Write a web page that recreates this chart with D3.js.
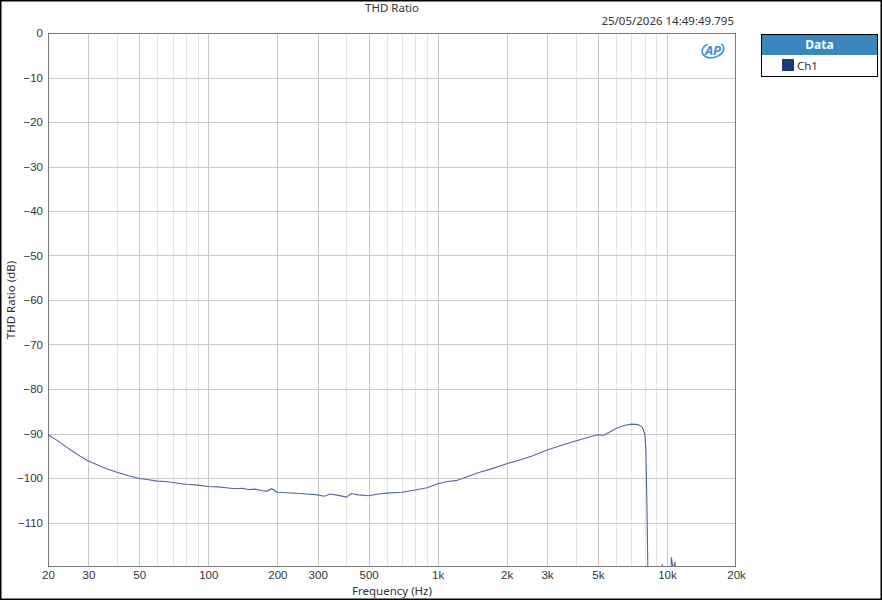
<!DOCTYPE html>
<html>
<head>
<meta charset="utf-8">
<script src="https://cdn.jsdelivr.net/npm/d3@7"></script>
<style>
  body { margin: 0; background: #fff; }
  svg { display: block; font-family: "Segoe UI", "Noto Sans", "Open Sans", sans-serif; }
</style>
</head>
<body>
<svg id="chart" width="882" height="600"></svg>
<script>
// THD ratio vs frequency, Ch1
const freqs = [20, 22, 24, 26, 28, 30, 33, 36, 40, 45, 50, 55, 60, 65, 70, 80, 90, 100,
	110, 120, 130, 140, 150, 160, 170, 180, 189, 200, 220, 250, 270, 300, 320, 340, 370,
	400, 420, 450, 500, 550, 600, 700, 800, 900, 1000, 1100, 1200, 1300, 1500, 1700, 2000,
	2300, 2600, 3000, 3500, 4000, 4500, 5000, 5300, 5600, 6000, 6500, 7000, 7500, 7800,
	8000, 8100, 8200, 8300, 9400, 9550, 9700, 10300, 10450, 10650, 10850, 11000, 20000];
const thd = [-90.3, -91.6, -93.0, -94.2, -95.3, -96.2, -97.1, -97.9, -98.7, -99.5, -100.1,
	-100.4, -100.7, -100.8, -101.0, -101.4, -101.6, -101.9, -102.0, -102.2, -102.4, -102.3,
	-102.6, -102.5, -102.8, -103.0, -102.4, -103.2, -103.3, -103.5, -103.6, -103.8, -104.1,
	-103.6, -103.9, -104.3, -103.5, -103.8, -104.0, -103.6, -103.4, -103.2, -102.7, -102.2,
	-101.3, -100.8, -100.6, -100.0, -98.8, -98.0, -96.8, -95.9, -95.0, -93.7, -92.6, -91.7,
	-90.9, -90.3, -90.4, -89.7, -88.9, -88.2, -87.9, -88.0, -88.6, -90.0, -94.0, -110.0,
	-130, -130, -119.4, -130, -130, -117.8, -120.6, -118.8, -130, -130];
const series = freqs.map((f, i) => ({f: f, v: thd[i]}));

const xTicks = [20, 30, 50, 100, 200, 300, 500, 1000, 2000, 3000, 5000, 10000, 20000];
const xTickLabels = ['20', '30', '50', '100', '200', '300', '500', '1k', '2k', '3k', '5k', '10k', '20k'];
const yTicks = [0, -10, -20, -30, -40, -50, -60, -70, -80, -90, -100, -110];

const title = 'THD Ratio';
const stamp = '25/05/2026 14:49:49.795';
const channel = 'Ch1';

const svg = d3.select('#chart');
const W = 882, H = 600;
const m = {left: 48, top: 33, right: 736, bottom: 567};

const x = d3.scaleLog().domain([20, 20000]).range([m.left, m.right]);
const y = d3.scaleLinear().domain([-120, 0]).range([m.bottom, m.top]);

// outer frame
svg.append('rect')
	.attr('x', 0.5).attr('y', 0.5)
	.attr('width', W - 1).attr('height', H - 1)
	.style('fill', '#fff').style('stroke', '#000').style('stroke-width', 2);

// grid: every 1..9 per decade
const minorF = [];
[10, 100, 1000, 10000].forEach((dec) => {
	for (let k = 1; k < 10; k++) {
		const f = dec * k;
		if (f > 20 && f < 20000) minorF.push(f);
	}
});

const grid = svg.append('g').attr('class', 'grid');

grid.selectAll('.vgrid')
	.data(minorF)
	.enter().append('line')
	.attr('class', 'vgrid')
	.attr('x1', (d) => Math.round(x(d)) + 0.5)
	.attr('x2', (d) => Math.round(x(d)) + 0.5)
	.attr('y1', m.top).attr('y2', m.bottom)
	.style('stroke', (d) => xTicks.indexOf(d) >= 0 ? '#c8c8c8' : '#e4e4e4')
	.style('stroke-width', 1);

grid.selectAll('.hgrid')
	.data(yTicks.filter((d) => d !== 0))
	.enter().append('line')
	.attr('class', 'hgrid')
	.attr('x1', m.left).attr('x2', m.right)
	.attr('y1', (d) => Math.round(y(d)) + 0.5)
	.attr('y2', (d) => Math.round(y(d)) + 0.5)
	.style('stroke', '#c8c8c8')
	.style('stroke-width', 1);

// axes
const xAxis = d3.axisBottom(x)
	.tickValues(xTicks)
	.tickFormat((d, i) => xTickLabels[i])
	.tickSize(0)
	.tickPadding(4);

const yAxis = d3.axisLeft(y)
	.tickValues(yTicks)
	.tickFormat(d3.format('d'))
	.tickSize(0)
	.tickPadding(5);

svg.append('g')
	.attr('transform', 'translate(0,' + m.bottom + ')')
	.call(xAxis)
	.call((g) => g.select('.domain').remove())
	.selectAll('text')
	.style('font-size', '11.5px')
	.style('fill', '#333')
	.style('font-family', 'inherit');

svg.append('g')
	.attr('transform', 'translate(' + m.left + ',0)')
	.call(yAxis)
	.call((g) => g.select('.domain').remove())
	.selectAll('text')
	.style('font-size', '11.5px')
	.style('fill', '#333')
	.style('font-family', 'inherit');

// plot frame
svg.append('rect')
	.attr('x', m.left + 0.5).attr('y', m.top + 0.5)
	.attr('width', m.right - m.left - 1).attr('height', m.bottom - m.top - 1)
	.style('fill', 'none').style('stroke', '#7a7a7a').style('stroke-width', 1);

// data line, clipped to the plot
svg.append('clipPath').attr('id', 'plotclip')
	.append('rect')
	.attr('x', m.left).attr('y', m.top)
	.attr('width', m.right - m.left).attr('height', m.bottom - m.top - 1);

const line = d3.line()
	.x((d) => x(d.f))
	.y((d) => y(d.v));

svg.append('path')
	.datum(series)
	.attr('clip-path', 'url(#plotclip)')
	.attr('d', line)
	.style('fill', 'none')
	.style('stroke', '#4f6899')
	.style('stroke-width', 1.1);

// texts
svg.append('text')
	.attr('x', (m.left + m.right) / 2).attr('y', 12)
	.attr('text-anchor', 'middle')
	.style('font-size', '11.5px').style('fill', '#333')
	.text(title);

svg.append('text')
	.attr('x', m.right - 2).attr('y', 25)
	.attr('text-anchor', 'end')
	.style('font-size', '11.5px').style('fill', '#333')
	.text(stamp);

svg.append('text')
	.attr('x', (m.left + m.right) / 2).attr('y', 595)
	.attr('text-anchor', 'middle')
	.style('font-size', '11.5px').style('fill', '#333')
	.text('Frequency (Hz)');

svg.append('text')
	.attr('transform', 'translate(15,' + ((m.top + m.bottom) / 2) + ') rotate(-90)')
	.attr('text-anchor', 'middle')
	.style('font-size', '11.5px').style('fill', '#333')
	.text('THD Ratio (dB)');

// AP logo
const logo = svg.append('g').attr('transform', 'translate(713,50)');
logo.append('ellipse')
	.attr('rx', 11).attr('ry', 7.5)
	.attr('transform', 'rotate(-15)')
	.style('fill', 'none').style('stroke', '#3d8fd0').style('stroke-width', 1.6)
	.style('stroke-dasharray', '40 14');
logo.append('text')
	.attr('x', 0).attr('y', 4.5)
	.attr('text-anchor', 'middle')
	.style('font-size', '13px').style('font-weight', 'bold').style('font-style', 'italic')
	.style('fill', '#3d8fd0')
	.text('AP');

// legend
const legend = svg.append('g').attr('transform', 'translate(761,34)');
legend.append('rect')
	.attr('x', 0.5).attr('y', 0.5).attr('width', 116).attr('height', 42)
	.style('fill', '#fff').style('stroke', '#000').style('stroke-width', 1);
legend.append('rect')
	.attr('x', 1).attr('y', 1).attr('width', 115).attr('height', 20)
	.style('fill', '#3a87c0');
legend.append('text')
	.attr('x', 58.5).attr('y', 15)
	.attr('text-anchor', 'middle')
	.style('font-size', '12px').style('font-weight', 'bold').style('fill', '#fff')
	.text('Data');
legend.append('rect')
	.attr('x', 21).attr('y', 25).attr('width', 12).attr('height', 12)
	.style('fill', '#1c3a7c');
legend.append('text')
	.attr('x', 36).attr('y', 36)
	.style('font-size', '11.5px').style('fill', '#333')
	.text(channel);
</script>
</body>
</html>
